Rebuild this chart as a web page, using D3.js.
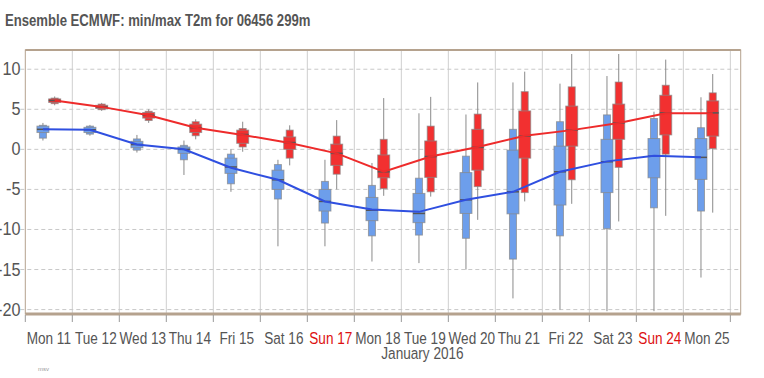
<!DOCTYPE html>
<html>
<head>
<meta charset="utf-8">
<script src="https://cdn.jsdelivr.net/npm/d3@7"></script>
<style>
  body { margin: 0; background: #fff; }
  svg text { font-family: "Liberation Sans", Arial, sans-serif; }
</style>
</head>
<body>
<div id="chart"></div>
<script>
const dayLabels = ["Mon 11", "Tue 12", "Wed 13", "Thu 14", "Fri 15", "Sat 16", "Sun 17", "Mon 18",
                   "Tue 19", "Wed 20", "Thu 21", "Fri 22", "Sat 23", "Sun 24", "Mon 25"];
const yTicks = [10, 5, 0, -5, -10, -15, -20];

// each box: [min, p10, p25, median, p75, p90, max]
const minBoxes = [
    [1.1, 1.4, 2.1, 2.5, 2.9, 3.0, 3.3],
    [1.7, 1.9, 2.1, 2.45, 2.75, 2.9, 3.05],
    [-0.4, -0.1, 0.2, 0.6, 1.0, 1.3, 1.8],
    [-3.2, -1.3, -0.5, 0.0, 0.3, 0.5, 1.1],
    [-5.3, -4.3, -3.0, -2.2, -1.1, -0.6, 0.0],
    [-12.1, -6.2, -5.0, -3.8, -2.6, -1.9, -1.3],
    [-12.1, -9.2, -7.7, -6.5, -5.0, -4.0, -1.3],
    [-14.0, -10.8, -8.9, -7.6, -6.0, -4.5, -1.7],
    [-14.2, -10.7, -9.15, -8.0, -5.5, -3.6, 4.5],
    [-15.0, -11.1, -8.0, -6.3, -2.9, -0.85, 4.35],
    [-18.6, -13.7, -8.05, -5.3, -0.1, 2.5, 8.35],
    [-20.0, -10.8, -6.95, -2.8, 0.4, 3.45, 8.2],
    [-20.2, -9.9, -5.4, -1.55, 1.25, 4.3, 9.15],
    [-20.2, -7.3, -3.55, -0.85, 1.35, 3.85, 4.7],
    [-16.0, -7.7, -3.75, -1.0, 1.35, 2.7, 6.5]
];
const maxBoxes = [
    [5.5, 5.7, 5.85, 6.1, 6.3, 6.4, 6.6],
    [4.8, 4.95, 5.1, 5.3, 5.5, 5.65, 5.8],
    [3.3, 3.6, 3.9, 4.25, 4.6, 4.75, 5.0],
    [1.25, 1.7, 2.1, 2.7, 3.15, 3.45, 3.75],
    [-0.3, 0.3, 0.75, 1.85, 2.4, 2.6, 3.45],
    [-2.0, -1.1, 0.0, 0.85, 1.55, 2.4, 3.0],
    [-5.0, -3.1, -2.0, -0.5, 0.65, 1.65, 3.65],
    [-5.8, -4.9, -3.55, -2.8, -0.7, 1.25, 6.4],
    [-5.9, -5.3, -3.5, -0.9, 1.05, 2.9, 6.55],
    [-8.8, -4.65, -2.6, 0.25, 2.5, 4.4, 8.35],
    [-6.5, -5.4, -1.1, 1.65, 4.8, 7.2, 9.7],
    [-6.8, -3.8, 0.4, 2.4, 5.4, 7.8, 11.9],
    [-9.0, -2.25, 1.25, 3.3, 5.65, 8.4, 11.9],
    [-8.3, -0.6, 1.8, 4.55, 6.75, 8.0, 11.2],
    [-7.9, 0.1, 1.65, 4.55, 6.05, 7.05, 9.4]
];
const minLine = [2.5, 2.45, 0.6, 0.0, -2.3, -3.8, -6.5, -7.5, -7.8, -6.3, -5.3, -2.8, -1.5, -0.8, -1.0];
const maxLine = [6.1, 5.3, 4.25, 2.7, 1.8, 0.8, -0.5, -2.8, -0.9, 0.3, 1.7, 2.4, 3.3, 4.5, 4.5];

const width = 764, height = 378;
const plot = { left: 25.3, right: 740.7, top: 50, bottom: 314 };

const svg = d3.select("#chart").append("svg")
    .attr("width", width)
    .attr("height", height);

// x in days since Mon 11 00:00
const x = d3.scaleLinear().domain([0, 15.22]).range([plot.left, plot.right]);
const y = d3.scaleLinear().domain([-20.55, 12.4]).range([plot.bottom, plot.top]);

const minOffset = 0.375, maxOffset = 0.625;

// condensed text: plain sans squeezed horizontally
function label(sel, tx, ty, sx) {
    return sel.attr("transform", `translate(${tx},${ty}) scale(${sx},1)`);
}

// title
label(svg.append("text"), 5, 26, 0.82)
    .style("font-size", "16px")
    .style("font-weight", "bold")
    .attr("fill", "#555")
    .text("Ensemble ECMWF: min/max T2m for 06456 299m");

// grid
svg.append("g").selectAll("line")
    .data(d3.range(1, dayLabels.length + 1))
    .enter().append("line")
    .attr("x1", d => x(d)).attr("x2", d => x(d))
    .attr("y1", plot.top).attr("y2", plot.bottom)
    .attr("stroke", "#cfcfcf");

svg.append("g").selectAll("line")
    .data(yTicks)
    .enter().append("line")
    .attr("x1", plot.left - 5).attr("x2", plot.right)
    .attr("y1", d => y(d)).attr("y2", d => y(d))
    .attr("stroke", "#c8c8c8")
    .attr("stroke-dasharray", "4,3");

// y labels (the minus of -10.. runs off the left edge, as in the source)
svg.append("g").selectAll("text")
    .data(yTicks)
    .enter().append("text")
    .attr("transform", d => `translate(20.5,${y(d) + 6}) scale(0.9,1)`)
    .attr("text-anchor", "end")
    .style("font-size", "18px")
    .attr("fill", "#555")
    .text(d => d);

// frame
svg.append("rect")
    .attr("x", plot.left).attr("y", plot.top)
    .attr("width", plot.right - plot.left).attr("height", plot.bottom - plot.top)
    .attr("fill", "none")
    .attr("stroke", "#b5a28e");
svg.append("line")
    .attr("x1", plot.left).attr("x2", plot.right)
    .attr("y1", plot.bottom).attr("y2", plot.bottom)
    .attr("stroke", "#b5a28e").attr("stroke-width", 3);
svg.append("line")
    .attr("x1", plot.left).attr("x2", plot.right)
    .attr("y1", plot.top).attr("y2", plot.top)
    .attr("stroke", "#b5a28e").attr("stroke-width", 2);

// x ticks + labels
svg.append("g").selectAll("line")
    .data(d3.range(0, dayLabels.length + 1))
    .enter().append("line")
    .attr("x1", d => x(d)).attr("x2", d => x(d))
    .attr("y1", plot.bottom + 1).attr("y2", plot.bottom + 8)
    .attr("stroke", "#999");

svg.append("g").selectAll("text")
    .data(dayLabels)
    .enter().append("text")
    .attr("transform", (d, i) => `translate(${x(i + 0.5)},344) scale(0.8,1)`)
    .attr("text-anchor", "middle")
    .style("font-size", "17px")
    .attr("fill", d => d.startsWith("Sun") ? "#dd1111" : "#555")
    .text(d => d);

label(svg.append("text"), x(8.45), 359, 0.8)
    .attr("text-anchor", "middle")
    .style("font-size", "17px")
    .attr("fill", "#555")
    .text("January 2016");

svg.append("text")
    .attr("x", 38)
    .attr("y", 371)
    .style("font-size", "6px")
    .attr("fill", "#999")
    .text("msv");

// box plots
function drawBoxes(boxes, offset, fill, cls) {
    const g = svg.append("g").attr("class", cls);
    const b = g.selectAll("g").data(boxes).enter().append("g")
        .attr("transform", (d, i) => `translate(${x(i + offset)},0)`);
    b.append("line")
        .attr("y1", d => y(d[0])).attr("y2", d => y(d[6]))
        .attr("stroke", "#8a8a8a");
    b.append("rect")
        .attr("x", -3.5).attr("width", 7)
        .attr("y", d => y(d[5])).attr("height", d => y(d[1]) - y(d[5]))
        .attr("fill", fill).attr("stroke", "#888").attr("stroke-opacity", 0.7);
    b.append("rect")
        .attr("x", -6).attr("width", 12)
        .attr("y", d => y(d[4])).attr("height", d => y(d[2]) - y(d[4]))
        .attr("fill", fill).attr("stroke", "#888").attr("stroke-opacity", 0.7);
    b.append("line")
        .attr("x1", -6).attr("x2", 6)
        .attr("y1", d => y(d[3])).attr("y2", d => y(d[3]))
        .attr("stroke", "#555").attr("stroke-width", 1.5);
}
drawBoxes(minBoxes, minOffset, "#6d9eeb", "minBoxes");
drawBoxes(maxBoxes, maxOffset, "#f23030", "maxBoxes");

// lines
const line = off => d3.line().x((d, i) => x(i + off)).y(d => y(d));
svg.append("path")
    .datum(minLine)
    .attr("d", line(minOffset))
    .attr("fill", "none")
    .attr("stroke", "#2f4fe0")
    .attr("stroke-width", 2);
svg.append("path")
    .datum(maxLine)
    .attr("d", line(maxOffset))
    .attr("fill", "none")
    .attr("stroke", "#ee2b2b")
    .attr("stroke-width", 2);
</script>
</body>
</html>
